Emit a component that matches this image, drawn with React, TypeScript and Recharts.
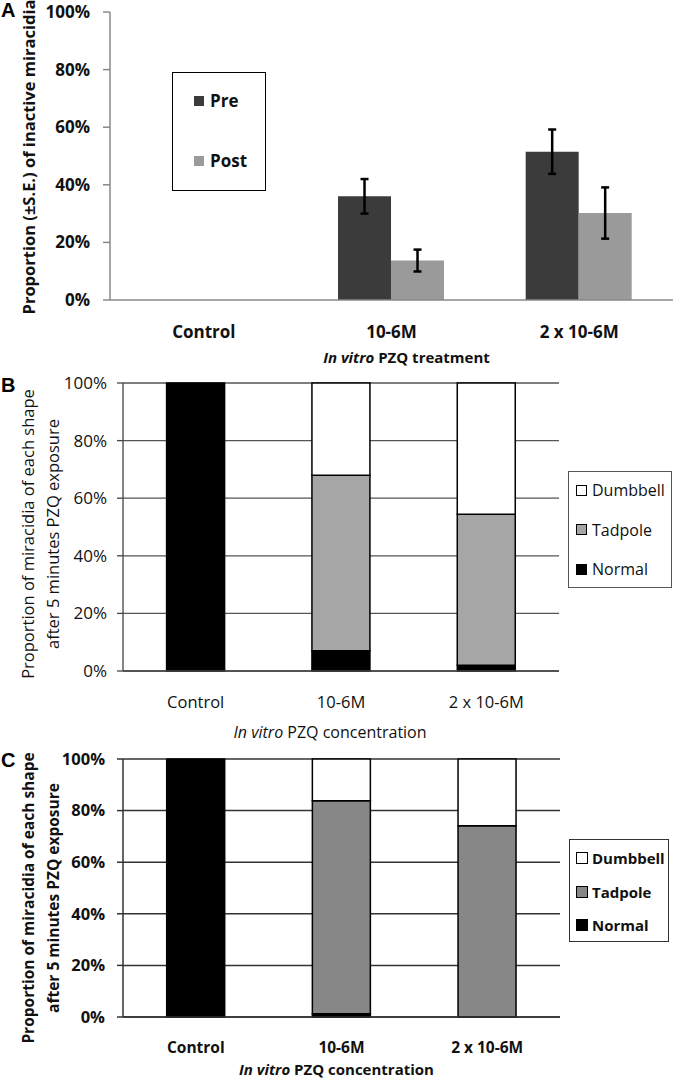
import React from "react";
import { BarChart, Bar, XAxis, YAxis, CartesianGrid, ErrorBar, Legend } from "recharts";

// ---------- data ----------
const categories = ["Control", "10-6M", "2 x 10-6M"];

// Panel A: proportion of inactive miracidia (pre / post)
const preValues = [null, 0.36, 0.515];
const preErrors = [null, 0.06, 0.077];
const postValues = [null, 0.137, 0.302];
const postErrors = [null, 0.038, 0.089];

// Panel B: shapes after 5 minutes
const normalB = [1.0, 0.07, 0.02];
const tadpoleB = [0, 0.61, 0.524];
const dumbbellB = [0, 0.32, 0.456];

// Panel C: shapes after 5 minutes
const normalC = [1.0, 0.013, 0];
const tadpoleC = [0, 0.825, 0.741];
const dumbbellC = [0, 0.162, 0.259];

const yTicks = [0, 0.2, 0.4, 0.6, 0.8, 1];
const boundaryTicks = [0, 1, 2, 3];
const legendOrderA = ["Pre", "Post"];
const legendOrderShapes = ["Dumbbell", "Tadpole", "Normal"];

const dataA = categories.map((c, i) => ({
  cat: c,
  Pre: preValues[i],
  preErr: preErrors[i],
  Post: postValues[i],
  postErr: postErrors[i],
}));
const dataB = categories.map((c, i) => ({
  cat: c,
  Normal: normalB[i],
  Tadpole: tadpoleB[i],
  Dumbbell: dumbbellB[i],
}));
const dataC = categories.map((c, i) => ({
  cat: c,
  Normal: normalC[i],
  Tadpole: tadpoleC[i],
  Dumbbell: dumbbellC[i],
}));

const FONT = "'Open Sans', Lato, sans-serif";
const pct = (v: number) => `${Math.round(v * 100)}%`;

const XTitle = ({ viewBox, dy, dx, size, weight, rest }: any) => {
  if (!viewBox) return null;
  const cx = viewBox.x + viewBox.width / 2 + dx;
  const cy = viewBox.y + dy;
  return (
    <text x={cx} y={cy} textAnchor="middle" dominantBaseline="central" fontSize={size} fontWeight={weight} fontFamily={FONT} fill="#111">
      <tspan fontStyle="italic">In vitro</tspan>
      {rest}
    </text>
  );
};

const YTitle = ({ viewBox, lines, xs, size, weight, shift }: any) => {
  if (!viewBox) return null;
  const cy = viewBox.y + viewBox.height / 2 + (shift || 0);
  return (
    <g>
      {lines.map((l: string, i: number) => (
        <text
          key={i}
          x={xs[i]}
          y={cy}
          transform={`rotate(-90 ${xs[i]} ${cy})`}
          textAnchor="middle"
          dominantBaseline="central"
          fontSize={size}
          fontWeight={weight}
          fontFamily={FONT}
          fill="#111"
        >
          {l}
        </text>
      ))}
    </g>
  );
};

const makeLegend = (cfg: any) => (props: any) => {
  const payload = props.payload || [];
  const items = cfg.order
    .map((name: string) => payload.find((p: any) => p.value === name || p.dataKey === name))
    .filter(Boolean);
  return (
    <div
      style={{
        position: "relative",
        width: cfg.w,
        height: cfg.h,
        border: `1.5px solid ${cfg.border}`,
        boxSizing: "border-box",
        background: "#fff",
        fontFamily: FONT,
      }}
    >
      {items.map((it: any, i: number) => (
        <div
          key={i}
          style={{
            position: "absolute",
            left: cfg.sqLeft,
            top: cfg.first + i * cfg.spacing - 12,
            height: 24,
            display: "flex",
            alignItems: "center",
            whiteSpace: "nowrap",
          }}
        >
          <span
            style={{
              display: "inline-block",
              width: cfg.sq,
              height: cfg.sq,
              background: it.color,
              border: cfg.sqBorder ? "1px solid #000" : "none",
              boxSizing: "border-box",
              marginRight: cfg.gap,
            }}
          />
          <span style={{ fontSize: cfg.size, fontWeight: cfg.weight, color: "#111", lineHeight: "24px" }}>{it.value}</span>
        </div>
      ))}
    </div>
  );
};

const Letter = ({ ch, top }: any) => (
  <div
    style={{
      position: "absolute",
      left: 1,
      top,
      fontFamily: "'Liberation Sans', Arial, sans-serif",
      fontWeight: 700,
      fontSize: 20,
      lineHeight: "20px",
      color: "#000",
    }}
  >
    {ch}
  </div>
);

const legendA = makeLegend({ order: legendOrderA, w: 94, h: 119, border: "#000", first: 28, spacing: 60, sqLeft: 21, sq: 10, gap: 6, size: 17, weight: 700, sqBorder: false });
const legendB = makeLegend({ order: legendOrderShapes, w: 104, h: 117, border: "#555", first: 18, spacing: 39.5, sqLeft: 7, sq: 11, gap: 5, size: 16, weight: 400, sqBorder: true });
const legendC = makeLegend({ order: legendOrderShapes, w: 100, h: 103, border: "#333", first: 18, spacing: 33.5, sqLeft: 6, sq: 12, gap: 4, size: 15, weight: 700, sqBorder: true });

export default function App() {
  return (
    <div style={{ position: "absolute", left: 0, top: 0, width: 675, height: 1078, background: "#fff", fontFamily: FONT }}>
      {/* Panel A */}
      <div style={{ position: "absolute", left: 0, top: 0 }}>
        <BarChart width={675} height={375} data={dataA} margin={{ top: 12, right: 2, bottom: 0, left: 0 }} barCategoryGap="21.5%" barGap={0}>
          <XAxis
            xAxisId="b"
            type="number"
            domain={[0, 3]}
            ticks={boundaryTicks}
            tickFormatter={() => ""}
            axisLine={false}
            tickLine={{ stroke: "#888", strokeWidth: 1.5 }}
            tickSize={6}
            height={0}
          />
          <XAxis
            dataKey="cat"
            interval={0}
            axisLine={{ stroke: "#888", strokeWidth: 1.5 }}
            tickLine={false}
            tickSize={0}
            tickMargin={26}
            height={75}
            tick={{ fontSize: 17, fontWeight: 700, fill: "#111", fontFamily: FONT }}
            label={{ content: (p: any) => <XTitle viewBox={p.viewBox} dy={57} dx={15} size={15} weight={700} rest=" PZQ treatment" /> }}
          />
          <YAxis
            domain={[0, 1]}
            ticks={yTicks}
            tickFormatter={pct}
            width={110}
            axisLine={{ stroke: "#888", strokeWidth: 1.5 }}
            tickLine={{ stroke: "#888", strokeWidth: 1.5 }}
            tickSize={7}
            tickMargin={13}
            tick={{ fontSize: 17, fontWeight: 700, fill: "#111", fontFamily: FONT }}
            label={{ content: (p: any) => <YTitle viewBox={p.viewBox} lines={["Proportion (±S.E.) of inactive miracidia"]} xs={[28]} size={16.5} weight={700} shift={1} /> }}
          />
          <Legend
            layout="vertical"
            align="center"
            verticalAlign="middle"
            content={legendA}
            wrapperStyle={{ left: 172, top: 72, width: 94, height: 119 }}
          />
          <Bar dataKey="Pre" fill="#3b3b3b" isAnimationActive={false}>
            <ErrorBar dataKey="preErr" width={4} strokeWidth={2.5} stroke="#000" />
          </Bar>
          <Bar dataKey="Post" fill="#9a9a9a" isAnimationActive={false}>
            <ErrorBar dataKey="postErr" width={4} strokeWidth={2.5} stroke="#000" />
          </Bar>
        </BarChart>
      </div>

      {/* Panel B */}
      <div style={{ position: "absolute", left: 0, top: 365 }}>
        <BarChart width={675} height={380} data={dataB} margin={{ top: 18, right: 116, bottom: 0, left: 0 }} barCategoryGap="30%">
          <CartesianGrid horizontal vertical={false} stroke="#555" strokeWidth={1.3} />
          <XAxis
            xAxisId="b"
            type="number"
            domain={[0, 3]}
            ticks={boundaryTicks}
            tickFormatter={() => ""}
            axisLine={false}
            tickLine={{ stroke: "#444", strokeWidth: 1.3 }}
            tickSize={6}
            height={0}
          />
          <XAxis
            dataKey="cat"
            interval={0}
            axisLine={{ stroke: "#444", strokeWidth: 1.3 }}
            tickLine={false}
            tickSize={0}
            tickMargin={25}
            height={74}
            tick={{ fontSize: 16.5, fontWeight: 400, fill: "#111", fontFamily: FONT }}
            label={{ content: (p: any) => <XTitle viewBox={p.viewBox} dy={61} dx={-11} size={16} weight={400} rest=" PZQ concentration" /> }}
          />
          <YAxis
            domain={[0, 1]}
            ticks={yTicks}
            tickFormatter={pct}
            width={123}
            axisLine={{ stroke: "#444", strokeWidth: 1.3 }}
            tickLine={{ stroke: "#444", strokeWidth: 1.3 }}
            tickSize={6}
            tickMargin={10}
            tick={{ fontSize: 17, fontWeight: 400, fill: "#111", fontFamily: FONT }}
            label={{
              content: (p: any) => (
                <YTitle viewBox={p.viewBox} lines={["Proportion of miracidia of each shape", "after 5 minutes PZQ exposure"]} xs={[27, 52]} size={16.5} weight={400} shift={7} />
              ),
            }}
          />
          <YAxis yAxisId="r" orientation="right" domain={[0, 1]} width={0} tick={false} tickLine={false} axisLine={{ stroke: "#555", strokeWidth: 1.3 }} />
          <Legend
            layout="vertical"
            align="center"
            verticalAlign="middle"
            content={legendB}
            wrapperStyle={{ left: 568, top: 106, width: 104, height: 117 }}
          />
          <Bar dataKey="Normal" stackId="s" fill="#000" stroke="#000" strokeWidth={1.5} isAnimationActive={false} />
          <Bar dataKey="Tadpole" stackId="s" fill="#a6a6a6" stroke="#000" strokeWidth={1.5} isAnimationActive={false} />
          <Bar dataKey="Dumbbell" stackId="s" fill="#ffffff" stroke="#000" strokeWidth={1.5} isAnimationActive={false} />
        </BarChart>
      </div>

      {/* Panel C */}
      <div style={{ position: "absolute", left: 0, top: 745 }}>
        <BarChart width={675} height={333} data={dataC} margin={{ top: 14, right: 115, bottom: 0, left: 0 }} barCategoryGap="30%">
          <CartesianGrid horizontal vertical={false} stroke="#333" strokeWidth={1.5} />
          <XAxis
            xAxisId="b"
            type="number"
            domain={[0, 3]}
            ticks={boundaryTicks}
            tickFormatter={() => ""}
            axisLine={false}
            tickLine={{ stroke: "#333", strokeWidth: 1.5 }}
            tickSize={6}
            height={0}
          />
          <XAxis
            dataKey="cat"
            interval={0}
            axisLine={{ stroke: "#333", strokeWidth: 1.5 }}
            tickLine={false}
            tickSize={0}
            tickMargin={25}
            height={61}
            tick={{ fontSize: 15.5, fontWeight: 700, fill: "#111", fontFamily: FONT }}
            label={{ content: (p: any) => <XTitle viewBox={p.viewBox} dy={52} dx={-5} size={15} weight={700} rest=" PZQ concentration" /> }}
          />
          <YAxis
            domain={[0, 1]}
            ticks={yTicks}
            tickFormatter={pct}
            width={123}
            axisLine={{ stroke: "#333", strokeWidth: 1.5 }}
            tickLine={{ stroke: "#333", strokeWidth: 1.5 }}
            tickSize={6}
            tickMargin={12}
            tick={{ fontSize: 16.5, fontWeight: 700, fill: "#111", fontFamily: FONT }}
            label={{
              content: (p: any) => (
                <YTitle viewBox={p.viewBox} lines={["Proportion of miracidia of each shape", "after 5 minutes PZQ exposure"]} xs={[28, 53]} size={15.5} weight={700} shift={10} />
              ),
            }}
          />
          <YAxis yAxisId="r" orientation="right" domain={[0, 1]} width={0} tick={false} tickLine={false} axisLine={{ stroke: "#555", strokeWidth: 1.3 }} />
          <Legend
            layout="vertical"
            align="center"
            verticalAlign="middle"
            content={legendC}
            wrapperStyle={{ left: 569, top: 94, width: 100, height: 103 }}
          />
          <Bar dataKey="Normal" stackId="s" fill="#000" stroke="#000" strokeWidth={1.5} isAnimationActive={false} />
          <Bar dataKey="Tadpole" stackId="s" fill="#878787" stroke="#000" strokeWidth={1.5} isAnimationActive={false} />
          <Bar dataKey="Dumbbell" stackId="s" fill="#ffffff" stroke="#000" strokeWidth={1.5} isAnimationActive={false} />
        </BarChart>
      </div>

      <Letter ch="A" top={0} />
      <Letter ch="B" top={375} />
      <Letter ch="C" top={750} />
    </div>
  );
}
